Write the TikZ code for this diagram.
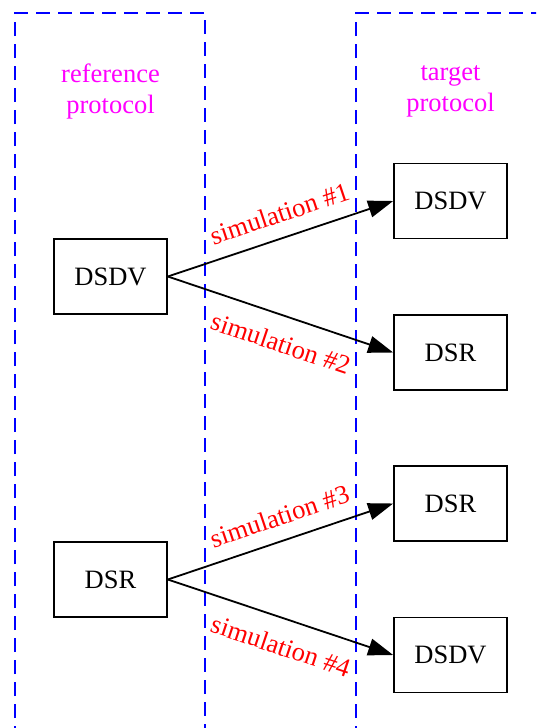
\documentclass[tikz,border=0pt]{standalone}
\usepackage{fontspec}
\setmainfont{Liberation Serif}
\usetikzlibrary{arrows.meta}
\definecolor{lblred}{RGB}{255,0,0}
\definecolor{lblmag}{RGB}{255,0,255}
\definecolor{lnblue}{RGB}{0,0,255}
\begin{document}
\begin{tikzpicture}[x=1pt,y=-1pt,
  font=\fontsize{26.5}{31}\selectfont,
  proto/.style={draw=black, line width=1.7pt, minimum width=113pt, minimum height=75pt, inner sep=0pt},
  lane/.style={draw=lnblue, line width=1.8pt, dash pattern=on 14pt off 8pt},
  head/.style={lblmag, align=center, inner sep=0pt},
  sim/.style={-{Triangle[length=25pt,width=17pt]}, line width=1.8pt, black},
  simlbl/.style={lblred, sloped, inner sep=0pt}]
\clip (0,0) rectangle (536,728);
% lanes
\draw[lane] (15,740) -- (15,13) -- (205,13) -- (205,740);
\draw[lane] (356,740) -- (356,13) -- (550,13);
% headings
\node[head] (hRef) at (110.5,91) {reference\\protocol};
\node[head] (hTgt) at (450.5,91) {target\\protocol};
% nodes
\node[proto] (refDSDV) at (110.5,276.5) {DSDV};
\node[proto] (refDSR)  at (110.5,579.5) {DSR};
\node[proto] (tDSDVa)  at (450.5,201)   {DSDV};
\node[proto] (tDSRa)   at (450.5,352.5) {DSR};
\node[proto] (tDSRb)   at (450.5,503.5) {DSR};
\node[proto] (tDSDVb)  at (450.5,655)   {DSDV};
% connectors
\draw[sim] (refDSDV.east) -- (tDSDVa.west) node[simlbl, pos=0.53, above=14pt] {simulation \#1};
\draw[sim] (refDSDV.east) -- (tDSRa.west)  node[simlbl, pos=0.54, below=17pt] {simulation \#2};
\draw[sim] (refDSR.east)  -- (tDSRb.west)  node[simlbl, pos=0.53, above=14pt] {simulation \#3};
\draw[sim] (refDSR.east)  -- (tDSDVb.west) node[simlbl, pos=0.54, below=17pt] {simulation \#4};
\end{tikzpicture}
\end{document}
